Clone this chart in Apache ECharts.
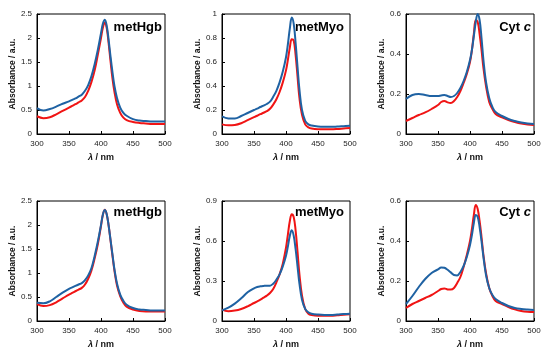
<!DOCTYPE html>
<html>
<head>
<meta charset="utf-8">
<script src="https://cdn.jsdelivr.net/npm/echarts@6/dist/echarts.min.js"></script>
<style>html,body{margin:0;padding:0;background:#fff}#c{width:550px;height:357px}</style>
</head>
<body>
<div id="c"></div>
<script>
// Wavelength grid (nm)
var wavelengths = [300,310,320,330,340,350,355,360,365,370,375,380,385,390,395,400,403,406,409,412,415,418,421,425,430,435,440,450,460,470,480,490,500];

// Panel titles
var panelTitles = ['metHgb', 'metMyo', 'Cyt c', 'metHgb', 'metMyo', 'Cyt c'];

// Y-axis ranges
var yMax = [2.5, 1, 0.6, 2.5, 0.9, 0.6];
var yInterval = [0.5, 0.2, 0.2, 0.5, 0.3, 0.2];

// Top row
var metHgbTopBlue = [0.54,0.49,0.52,0.57,0.63,0.68,0.71,0.74,0.78,0.82,0.9,1.02,1.2,1.45,1.75,2.1,2.3,2.38,2.25,1.95,1.6,1.28,1.0,0.75,0.55,0.44,0.38,0.31,0.28,0.27,0.26,0.26,0.26];
var metHgbTopRed = [0.37,0.33,0.35,0.41,0.48,0.55,0.585,0.62,0.66,0.7,0.77,0.9,1.08,1.32,1.65,2.0,2.22,2.32,2.2,1.88,1.5,1.15,0.88,0.62,0.44,0.34,0.29,0.25,0.23,0.22,0.21,0.21,0.21];
var metMyoTopBlue = [0.147,0.13,0.13,0.15,0.175,0.2,0.212,0.225,0.237,0.25,0.27,0.31,0.36,0.43,0.52,0.64,0.75,0.88,0.97,0.92,0.76,0.56,0.37,0.2,0.11,0.08,0.07,0.062,0.06,0.06,0.062,0.065,0.068];
var metMyoTopRed = [0.08,0.072,0.075,0.09,0.115,0.14,0.152,0.165,0.177,0.19,0.21,0.245,0.29,0.35,0.43,0.53,0.62,0.72,0.79,0.78,0.66,0.48,0.3,0.16,0.08,0.055,0.045,0.04,0.04,0.04,0.042,0.046,0.05];
var cytcTopBlue = [0.175,0.195,0.2,0.195,0.19,0.19,0.193,0.195,0.19,0.185,0.19,0.205,0.23,0.265,0.31,0.37,0.42,0.49,0.56,0.6,0.57,0.48,0.37,0.26,0.18,0.135,0.11,0.09,0.075,0.065,0.058,0.053,0.05];
var cytcTopRed = [0.065,0.08,0.095,0.108,0.125,0.145,0.16,0.165,0.158,0.155,0.165,0.185,0.215,0.255,0.3,0.36,0.42,0.5,0.57,0.56,0.5,0.42,0.33,0.24,0.16,0.125,0.1,0.083,0.07,0.06,0.052,0.047,0.045];

// Bottom row
var metHgbBotBlue = [0.38,0.37,0.41,0.5,0.59,0.67,0.7,0.73,0.76,0.79,0.85,0.95,1.1,1.35,1.65,2.0,2.22,2.31,2.22,1.98,1.68,1.38,1.08,0.78,0.55,0.42,0.34,0.27,0.24,0.23,0.22,0.22,0.22];
var metHgbBotRed = [0.35,0.31,0.33,0.39,0.47,0.55,0.585,0.62,0.655,0.69,0.76,0.88,1.05,1.3,1.6,1.98,2.22,2.32,2.22,1.98,1.67,1.35,1.05,0.74,0.52,0.38,0.3,0.24,0.21,0.2,0.2,0.2,0.2];
var metMyoBotBlue = [0.08,0.1,0.13,0.17,0.215,0.245,0.255,0.26,0.263,0.265,0.265,0.28,0.31,0.35,0.41,0.49,0.56,0.64,0.68,0.64,0.54,0.41,0.28,0.16,0.09,0.065,0.055,0.048,0.045,0.045,0.048,0.052,0.055];
var metMyoBotRed = [0.085,0.073,0.078,0.09,0.11,0.135,0.147,0.16,0.175,0.19,0.21,0.24,0.29,0.35,0.43,0.55,0.65,0.75,0.8,0.78,0.68,0.52,0.35,0.19,0.09,0.055,0.045,0.04,0.04,0.04,0.043,0.047,0.05];
var cytcBotBlue = [0.085,0.125,0.17,0.21,0.24,0.258,0.268,0.266,0.256,0.243,0.23,0.228,0.245,0.275,0.32,0.38,0.43,0.49,0.53,0.52,0.47,0.4,0.32,0.23,0.165,0.13,0.11,0.09,0.075,0.065,0.06,0.057,0.055];
var cytcBotRed = [0.065,0.085,0.1,0.115,0.13,0.15,0.16,0.163,0.158,0.157,0.165,0.19,0.22,0.27,0.33,0.4,0.46,0.53,0.58,0.56,0.5,0.42,0.33,0.24,0.165,0.125,0.1,0.085,0.07,0.058,0.05,0.046,0.045];

var blueSeries = [metHgbTopBlue, metMyoTopBlue, cytcTopBlue, metHgbBotBlue, metMyoBotBlue, cytcBotBlue];
var redSeries = [metHgbTopRed, metMyoTopRed, cytcTopRed, metHgbBotRed, metMyoBotRed, cytcBotRed];

var FONT = 'Liberation Sans, Arial, sans-serif';
var BLUE = '#1f62a3';
var RED = '#f01414';

var gridLefts = [37, 222, 406];
var gridTops = [14, 201];
var titleRight = [388, 206, 19];
var titleTop = [21, 206];

function pairs(xs, ys) {
  return xs.map(function (x, i) { return [x, ys[i]]; });
}

var option = {
  backgroundColor: '#fff',
  animation: false,
  grid: [], xAxis: [], yAxis: [], series: [], title: []
};

for (var p = 0; p < 6; p++) {
  var col = p % 3, row = Math.floor(p / 3);
  option.grid.push({
    left: gridLefts[col], top: gridTops[row], width: 128, height: 120,
    show: true, borderColor: '#000', borderWidth: 1, backgroundColor: 'transparent'
  });
  option.xAxis.push({
    type: 'value', gridIndex: p, min: 300, max: 500, interval: 50,
    name: '{i|λ}{n| / nm}', nameLocation: 'middle', nameGap: 19,
    nameTextStyle: { rich: {
      i: { fontStyle: 'italic', fontWeight: 'bold', fontSize: 9, fontFamily: FONT, color: '#111' },
      n: { fontWeight: 'bold', fontSize: 9, fontFamily: FONT, color: '#111' }
    } },
    axisLine: { show: true, lineStyle: { color: '#000', width: 1 } },
    axisTick: { show: true, inside: true, length: 3, lineStyle: { color: '#000' } },
    axisLabel: { fontSize: 8, fontFamily: FONT, color: '#222', margin: 6 },
    splitLine: { show: false }
  });
  option.yAxis.push({
    type: 'value', gridIndex: p, min: 0, max: yMax[p], interval: yInterval[p],
    name: 'Absorbance / a.u.', nameLocation: 'middle', nameGap: 19,
    nameTextStyle: { fontSize: 8.5, fontWeight: 'bold', fontFamily: FONT, color: '#111' },
    axisLine: { show: true, lineStyle: { color: '#000', width: 1 } },
    axisTick: { show: true, inside: true, length: 3, lineStyle: { color: '#000' } },
    axisLabel: { fontSize: 8, fontFamily: FONT, color: '#222', margin: 5 },
    splitLine: { show: false }
  });
  option.series.push({
    type: 'line', xAxisIndex: p, yAxisIndex: p, data: pairs(wavelengths, redSeries[p]),
    smooth: 0.4, showSymbol: false, lineStyle: { color: RED, width: 2 }, z: 2
  });
  option.series.push({
    type: 'line', xAxisIndex: p, yAxisIndex: p, data: pairs(wavelengths, blueSeries[p]),
    smooth: 0.4, showSymbol: false, lineStyle: { color: BLUE, width: 2 }, z: 3
  });
  var t = panelTitles[p];
  var txt = t === 'Cyt c' ? '{a|Cyt }{b|c}' : '{a|' + t + '}';
  option.title.push({
    text: txt, right: titleRight[col], top: titleTop[row], padding: 0,
    textStyle: { rich: {
      a: { fontSize: 13, fontWeight: 'bold', fontFamily: FONT, color: '#000' },
      b: { fontSize: 13, fontWeight: 'bold', fontStyle: 'italic', fontFamily: FONT, color: '#000' }
    } }
  });
}

var chart = echarts.init(document.getElementById('c'), null, { renderer: 'canvas' });
chart.setOption(option);
</script>
</body>
</html>
